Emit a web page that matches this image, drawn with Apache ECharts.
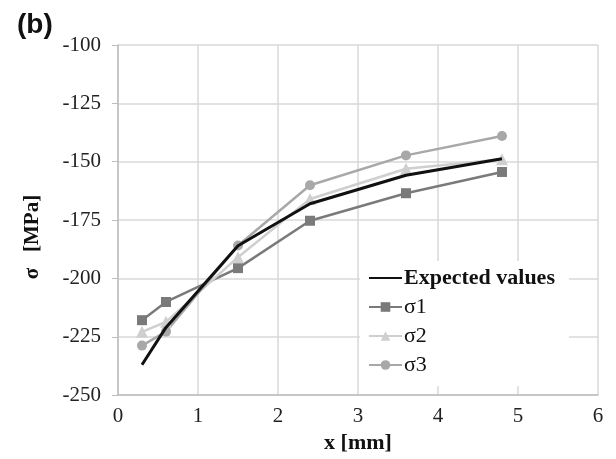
<!DOCTYPE html>
<html>
<head>
<meta charset="utf-8">
<script src="https://cdn.jsdelivr.net/npm/echarts@6/dist/echarts.min.js"></script>
<style>
html, body { margin: 0; padding: 0; background: #fff; }
#chart { width: 616px; height: 459px; }
</style>
</head>
<body>
<div id="chart"></div>
<script>
// positions along x [mm]
var xs = [0.3, 0.6, 1.5, 2.4, 3.6, 4.8];
var expected = [-237, -221, -186, -168, -155.8, -148.7];
var sigma1 = [-217.9, -210.1, -195.6, -175.3, -163.5, -154.4];
var sigma2 = [-222.9, -218.6, -190.9, -166, -153, -149];
var sigma3 = [-228.8, -222.8, -185.9, -160.1, -147.3, -139];

function pairs(ys) {
	var out = [];
	for (var i = 0; i < xs.length; i++) {
		out.push([xs[i], ys[i]]);
	}
	return out;
}

var serif = 'Times New Roman, Liberation Serif, serif';

var myChart = echarts.init(document.getElementById('chart'));
var option = {
	animation: false,
	backgroundColor: '#fff',
	title: {
		text: '(b)',
		left: 12,
		top: 6,
		textStyle: { fontFamily: 'Liberation Sans, Arial, sans-serif', fontSize: 28, fontWeight: 'bold', color: '#111' }
	},
	graphic: [{
		type: 'text',
		x: 33,
		y: 237,
		rotation: Math.PI / 2,
		style: {
			text: 'σ   [MPa]',
			textAlign: 'center',
			textVerticalAlign: 'middle',
			font: 'bold 21px Times New Roman, Liberation Serif, serif',
			fill: '#111'
		}
	}],
	grid: { left: 118, right: 18, top: 45, bottom: 62 },
	legend: {
		orient: 'vertical',
		left: 360,
		top: 261,
		itemWidth: 33,
		itemHeight: 12,
		itemGap: 7,
		padding: [6, 14, 10, 8],
		backgroundColor: '#fff',
		textStyle: { fontFamily: serif, fontSize: 22, color: '#111', padding: [0, 0, 0, -3] },
		data: [
			{ name: 'Expected values', textStyle: { fontWeight: 'bold' }, itemStyle: { opacity: 0 } },
			'σ1', 'σ2', 'σ3'
		]
	},
	xAxis: {
		type: 'value',
		min: 0,
		max: 6,
		interval: 1,
		name: 'x [mm]',
		nameLocation: 'middle',
		nameGap: 31,
		nameTextStyle: { fontFamily: serif, fontSize: 22, fontWeight: 'bold', color: '#111' },
		axisLine: { show: true, lineStyle: { color: '#bdbdbd', width: 1.5 } },
		axisTick: { show: false },
		axisLabel: { fontFamily: serif, fontSize: 21, color: '#222', margin: 11 },
		splitLine: { show: true, lineStyle: { color: '#d9d9d9', width: 1.5 } }
	},
	yAxis: {
		type: 'value',
		min: -250,
		max: -100,
		interval: 25,
		axisLine: { show: true, lineStyle: { color: '#bdbdbd', width: 1.5 } },
		axisTick: { show: true, length: 6, lineStyle: { color: '#bdbdbd' } },
		axisLabel: { fontFamily: serif, fontSize: 21, color: '#222', margin: 17 },
		splitLine: { show: true, lineStyle: { color: '#d9d9d9', width: 1.5 } }
	},
	series: [
		{
			name: 'Expected values',
			type: 'line',
			data: pairs(expected),
			symbol: 'none',
			lineStyle: { color: '#111', width: 3 },
			itemStyle: { color: '#111' },
			z: 5
		},
		{
			name: 'σ1',
			type: 'line',
			data: pairs(sigma1),
			symbol: 'rect',
			symbolSize: 10,
			lineStyle: { color: '#7a7a7a', width: 2.5 },
			itemStyle: { color: '#7a7a7a' }
		},
		{
			name: 'σ2',
			type: 'line',
			data: pairs(sigma2),
			symbol: 'triangle',
			symbolSize: 12,
			lineStyle: { color: '#cfcfcf', width: 2.5 },
			itemStyle: { color: '#cfcfcf' }
		},
		{
			name: 'σ3',
			type: 'line',
			data: pairs(sigma3),
			symbol: 'circle',
			symbolSize: 10,
			lineStyle: { color: '#a8a8a8', width: 2.5 },
			itemStyle: { color: '#a8a8a8' }
		}
	]
};
myChart.setOption(option);
</script>
</body>
</html>
